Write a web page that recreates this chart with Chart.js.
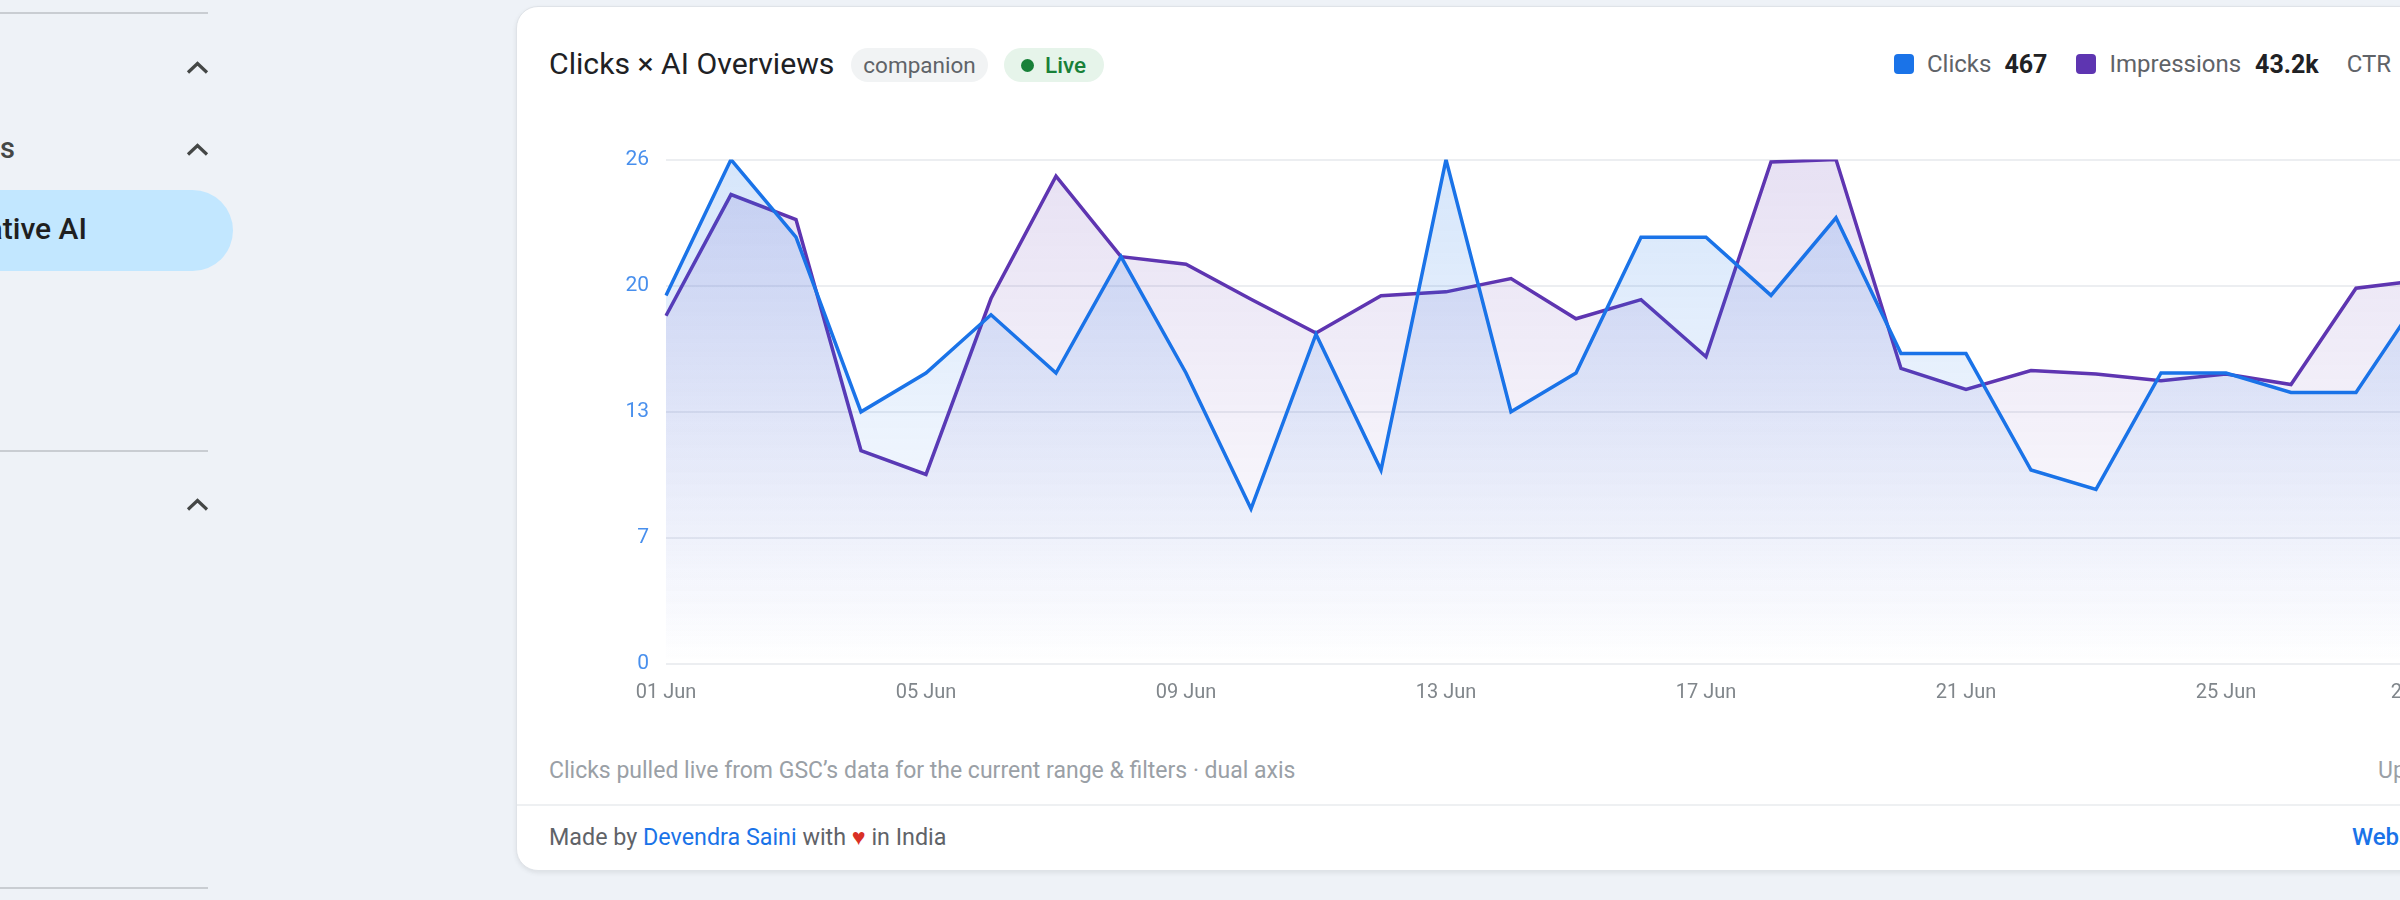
<!DOCTYPE html>
<html>
<head>
<meta charset="utf-8">
<script src="https://cdn.jsdelivr.net/npm/chart.js@4.4.1/dist/chart.umd.min.js"></script>
<style>
html,body{margin:0;padding:0;}
body{width:2400px;height:900px;overflow:hidden;background:#eef2f7;font-family:Roboto,"Noto Sans",sans-serif;position:relative;}
.abs{position:absolute;white-space:nowrap;}
.sideline{position:absolute;left:0;width:208px;height:2px;background:#c9cdd2;}
.chev{position:absolute;}
.card{position:absolute;left:516px;top:6px;width:2200px;height:863px;background:#fff;border:1.5px solid #dfe3e8;border-radius:22px;box-shadow:0 2px 4px rgba(60,64,67,0.10);}
.pill{position:absolute;display:flex;align-items:center;box-sizing:border-box;border-radius:17px;}
.legend{position:absolute;left:1894px;top:44px;height:40px;display:flex;align-items:center;white-space:nowrap;}
.sw{width:20px;height:20px;border-radius:4px;display:inline-block;}
.lt{font-size:24px;color:#5f6368;}
.lv{font-size:25px;font-weight:700;color:#202124;}
</style>
</head>
<body>
<!-- sidebar -->
<div class="sideline" style="top:12px"></div>
<svg class="chev" style="left:186px;top:61px" width="23" height="14" viewBox="0 0 23 14"><polyline points="2,11.5 11.5,2.5 21,11.5" fill="none" stroke="#444746" stroke-width="3.2"/></svg>
<div class="abs" style="left:15px;top:128px;transform:translateX(-100%);font-size:29px;line-height:40px;color:#444746;font-weight:500;">Insights</div>
<svg class="chev" style="left:186px;top:143px" width="23" height="14" viewBox="0 0 23 14"><polyline points="2,11.5 11.5,2.5 21,11.5" fill="none" stroke="#444746" stroke-width="3.2"/></svg>
<div class="abs" style="left:-120px;top:190px;width:353px;height:81px;border-radius:40.5px;background:#c2e7ff;"></div>
<div class="abs" style="left:87px;top:209px;transform:translateX(-100%);font-size:30px;line-height:40px;color:#1f1f1f;font-weight:500;">Generative AI</div>
<div class="sideline" style="top:450px"></div>
<svg class="chev" style="left:186px;top:498px" width="23" height="14" viewBox="0 0 23 14"><polyline points="2,11.5 11.5,2.5 21,11.5" fill="none" stroke="#444746" stroke-width="3.2"/></svg>
<div class="sideline" style="top:887px"></div>

<!-- card -->
<div class="card"></div>
<div class="abs" style="left:549px;top:44px;font-size:30.2px;line-height:40px;color:#202124;">Clicks × AI Overviews</div>
<div class="pill" style="left:851px;top:48px;width:137px;height:34px;background:#f1f3f4;justify-content:center;font-size:22.5px;color:#5f6368;">companion</div>
<div class="pill" style="left:1004px;top:48px;width:100px;height:34px;background:#e6f4ea;padding-left:17px;font-size:22.5px;color:#188038;font-weight:500;">
  <span style="width:13px;height:13px;border-radius:50%;background:#188038;display:inline-block;margin-right:11px;"></span>Live</div>

<div class="legend">
  <span class="sw" style="background:#1a73e8"></span>
  <span class="lt" style="margin-left:13px">Clicks</span>
  <span class="lv" style="margin-left:13px">467</span>
  <span class="sw" style="background:#5e35b1;margin-left:29px"></span>
  <span class="lt" style="margin-left:13px">Impressions</span>
  <span class="lv" style="margin-left:14px">43.2k</span>
  <span class="lt" style="margin-left:28px">CTR</span>
  <span class="lv" style="margin-left:13px">1.08%</span>
</div>

<canvas id="c" width="1931" height="594" style="position:absolute;left:560px;top:130px;"></canvas>

<div class="abs" style="left:549px;top:755px;font-size:23px;line-height:32px;color:#9aa0a6;">Clicks pulled live from GSC’s data for the current range &amp; filters · dual axis</div>
<div class="abs" style="left:2378px;top:755px;font-size:23px;line-height:32px;color:#9aa0a6;">Updated just now</div>
<div class="abs" style="left:517px;top:804px;width:2200px;height:2px;background:#eef0f2;"></div>
<div class="abs" style="left:549px;top:821px;font-size:23.3px;line-height:32px;color:#5f6368;">Made by <span style="color:#1a73e8">Devendra Saini</span> with <span style="color:#d93025">♥</span> in India</div>
<div class="abs" style="left:2352px;top:821px;font-size:24px;line-height:32px;color:#1a73e8;font-weight:500;">Website</div>

<script>
const days = ['01 Jun','02 Jun','03 Jun','04 Jun','05 Jun','06 Jun','07 Jun','08 Jun','09 Jun','10 Jun',
  '11 Jun','12 Jun','13 Jun','14 Jun','15 Jun','16 Jun','17 Jun','18 Jun','19 Jun','20 Jun',
  '21 Jun','22 Jun','23 Jun','24 Jun','25 Jun','26 Jun','27 Jun','28 Jun'];
const clicks = [19,26,22,13,15,18,15,21,15,8,17,10,26,13,15,22,22,19,23,16,16,10,9,15,15,14,14,19];
const impressions = [1514,2041,1932,928,824,1589,2121,1771,1738,1586,1439,1601,1618,1676,1501,1584,1336,2183,2193,1285,1194,1276,1261,1232,1261,1215,1634,1668];
const clickTickLabels = ['0','7','13','20','26'];
const xLabelEvery = 4;

function fillGrad(rgb, aTop, aBot) {
  return (context) => {
    const chart = context.chart;
    const a = chart.chartArea;
    if (!a) return `rgba(${rgb},${aTop})`;
    const g = chart.ctx.createLinearGradient(0, a.top, 0, a.bottom);
    g.addColorStop(0, `rgba(${rgb},${aTop})`);
    g.addColorStop(1, `rgba(${rgb},${aBot})`);
    return g;
  };
}

Chart.defaults.font.family = 'Roboto, "Noto Sans", sans-serif';

new Chart(document.getElementById('c'), {
  type: 'line',
  data: {
    labels: days,
    datasets: [
      { label: 'Clicks', data: clicks, yAxisID: 'y', borderColor: '#1a73e8', borderWidth: 3.5,
        pointRadius: 0, tension: 0, fill: 'origin', backgroundColor: fillGrad('26,115,232', 0.18, 0.0) },
      { label: 'Impressions', data: impressions, yAxisID: 'y1', borderColor: '#5e35b1', borderWidth: 3.5,
        pointRadius: 0, tension: 0, fill: 'origin', backgroundColor: fillGrad('94,53,177', 0.15, 0.0) }
    ]
  },
  options: {
    responsive: false,
    animation: false,
    layout: { padding: { top: 20, left: 0, right: 0, bottom: 0 } },
    plugins: { legend: { display: false }, tooltip: { enabled: false } },
    scales: {
      x: {
        grid: { display: false, drawTicks: false },
        border: { display: false },
        ticks: {
          autoSkip: false, maxRotation: 0, padding: 17, color: '#80868b', font: { size: 20 },
          callback: (v, i) => (i % xLabelEvery === 0 || i === days.length - 1) ? days[i] : ''
        },
        afterFit: (s) => { s.height = 60; }
      },
      y: {
        position: 'left', min: 0, max: Math.max(...clicks),
        ticks: { stepSize: Math.max(...clicks) / 4, color: 'rgba(26,115,232,0.8)', font: { size: 21 }, padding: 17,
          callback: (v, i) => clickTickLabels[i] },
        grid: { color: '#eceef1', lineWidth: 2, drawTicks: false },
        border: { display: false },
        afterFit: (s) => { s.width = 106; }
      },
      y1: {
        position: 'right', min: 0, max: Math.max(...impressions),
        ticks: { count: 5, color: '#9aa0a6', font: { size: 20 }, padding: 12, callback: (v) => Math.round(v) },
        grid: { drawOnChartArea: false, drawTicks: false },
        border: { display: false },
        afterFit: (s) => { s.width = 70; }
      }
    }
  }
});
</script>
</body>
</html>
